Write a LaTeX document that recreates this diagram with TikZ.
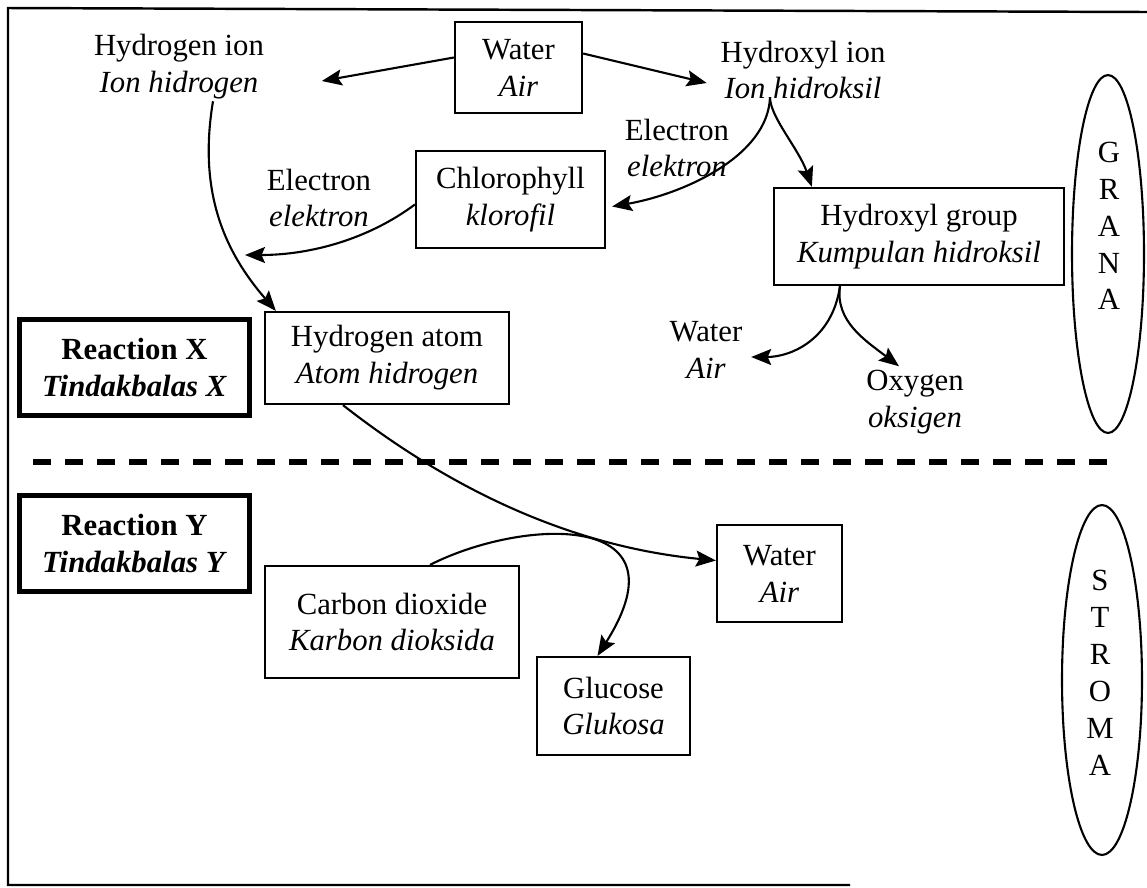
\documentclass[tikz,border=0pt]{standalone}
\usepackage{fontspec}
\setmainfont{Liberation Serif}
\usepackage{tikz}
\usetikzlibrary{shapes.geometric, arrows.meta, positioning, calc}
\newcommand{\diagfont}{\fontsize{17.5}{21}\selectfont}
\tikzstyle{compound} = [rectangle, draw=black, line width=1.3pt, text centered, align=center, font=\diagfont]
\tikzstyle{reaction} = [rectangle, draw=black, line width=3pt, minimum width=4.6cm, minimum height=1.92cm, text centered, align=center, font=\diagfont\bfseries]
\tikzstyle{species} = [align=center, inner sep=2pt, font=\diagfont]
\tikzstyle{region} = [ellipse, draw=black, line width=1.2pt, inner sep=0pt]
\tikzstyle{arrow} = [line width=1.2pt,->,>={Stealth[length=4mm,width=3.2mm,inset=0.7mm]}]
\tikzstyle{divider} = [line width=3pt, dash pattern=on 0.36cm off 0.28cm]

\begin{document}
\begin{tikzpicture}[x=0.02cm, y=-0.02cm]
    \useasboundingbox (0,0) rectangle (1147,887);

    % Frame and grana / stroma border
    \draw[line width=1.4pt] (1147,12) -- (8,8) -- (8,885) -- (850,885);
    \draw[divider] (33,462) -- (1107,462);

    % Grana (upper half)
    \node (wtop) [compound, minimum width=2.54cm, minimum height=1.82cm] at (518.5,67.5) {Water\\\textit{Air}};
    \node (hion) [species] at (179,67) {Hydrogen ion\\\textit{Ion hidrogen}};
    \node (ohion) [species] at (803,70) {Hydroxyl ion\\\textit{Ion hidroksil}};
    \node (chloro) [compound, minimum width=3.78cm, minimum height=1.94cm] at (510.5,199.5) {Chlorophyll\\\textit{klorofil}};
    \node (elecl) [species] at (319,198) {Electron\\\textit{elektron}};
    \node (elecr) [species] at (677,148) {Electron\\\textit{elektron}};
    \node (hgroup) [compound, minimum width=5.8cm, minimum height=1.94cm] at (919,236.5) {Hydroxyl group\\\textit{Kumpulan hidroksil}};
    \node (waters) [species] at (706,350) {Water\\\textit{Air}};
    \node (oxy) [species] at (915,402) {Oxygen\\\textit{oksigen}};
    \node (rx) [reaction] at (134.5,367.5) {Reaction X\\\textit{Tindakbalas X}};
    \node (hatom) [compound, minimum width=4.88cm, minimum height=1.84cm] at (387,358) {Hydrogen atom\\\textit{Atom hidrogen}};
    \node (grana) [region, minimum width=1.44cm, minimum height=7.16cm] at (1108,254) {};
    \node [species] at ($(grana)+(1,-28)$) {G\\R\\A\\N\\A};
    \coordinate (emeet) at (245,255);

    % Stroma (lower half)
    \node (ry) [reaction, below=1.5cm of rx] {Reaction Y\\\textit{Tindakbalas Y}};
    \node (co2) [compound, minimum width=5.08cm, minimum height=2.24cm] at (392,622) {Carbon dioxide\\\textit{Karbon dioksida}};
    \node (gluc) [compound, minimum width=3.06cm, minimum height=1.96cm] at (613.5,706) {Glucose\\\textit{Glukosa}};
    \node (wbot) [compound, minimum width=2.5cm, minimum height=1.94cm] at (779.5,573.5) {Water\\\textit{Air}};
    \node (stroma) [region, minimum width=1.6cm, minimum height=7cm] at (1102,680) {};
    \node [species] at ($(stroma)+(-2,-7)$) {S\\T\\R\\O\\M\\A};

    % Arrows: splitting water
    \draw [arrow] ($(wtop.west)+(0,-10)$) -- ($(hion.east)+(54,14)$);
    \draw [arrow] ($(wtop.east)+(0,-14)$) -- ($(ohion.west)+(-10,13)$);

    % Arrows: electrons and hydrogen
    \draw [arrow] ($(hion.south)+(34,-2)$) .. controls +(-15,90) and +(-52,-60) .. ($(hatom.north west)+(12,0)$);
    \draw [arrow] ($(chloro.west)+(0,5)$) .. controls +(-47,35) and +(65,0) .. (emeet);
    \draw [arrow] ($(ohion.south)+(-33,-6)$) .. controls +(-2,60) and +(69,-12) .. ($(chloro.east)+(6,7)$);
    \draw [arrow] ($(ohion.south)+(-33,-6)$) .. controls +(0,20) and +(-13,-38) .. ($(hgroup.north west)+(39,0)$);
    \draw [arrow] ($(hgroup.south)+(-79,0)$) .. controls +(-8,55) and +(38,0) .. ($(waters.east)+(5,7)$);
    \draw [arrow] ($(hgroup.south)+(-79,0)$) .. controls +(-5,35) and +(-34,-26) .. ($(oxy.north)+(-16,0)$);

    % Arrows: into the stroma
    \draw [arrow] ($(hatom.south)+(-44,0)$) .. controls +(97,76) and +(-155,-15) .. ($(wbot.west)+(0,-13)$);
    \draw [arrow] ($(co2.north)+(38,0)$) .. controls +(90,-46) and +(93,-147) .. ($(gluc.north)+(-16,0)$);

\end{tikzpicture}
\end{document}
